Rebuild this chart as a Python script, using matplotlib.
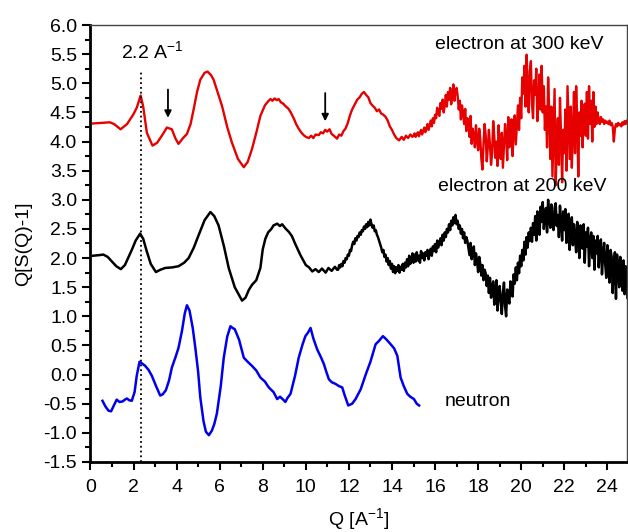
import matplotlib
matplotlib.use('Agg')
import matplotlib.pyplot as plt
from matplotlib.ticker import MultipleLocator
import numpy as np

plt.rcParams['font.family'] = ['Liberation Sans', 'DejaVu Sans']

# ---- red: electron at 300 keV ----
red_q_smooth = [0.12, 0.5, 0.9, 1.1, 1.4, 1.7, 2.0, 2.15, 2.33, 2.45, 2.62, 2.88, 3.1, 3.35,
                3.55, 3.78, 3.95, 4.09, 4.3, 4.48, 4.65, 4.79, 4.95, 5.1, 5.3, 5.44, 5.6, 5.72,
                5.9, 6.11, 6.35, 6.57, 6.85, 7.12, 7.3, 7.5, 7.7, 7.89, 8.1, 8.25, 8.36, 8.45,
                8.55, 8.65, 8.74, 8.85, 8.95, 9.05, 9.2, 9.3, 9.45, 9.55, 9.67, 9.8, 9.9, 10.0,
                10.14, 10.25, 10.35, 10.45, 10.6, 10.7, 10.8, 10.9, 10.99, 11.1, 11.2, 11.3,
                11.45, 11.55, 11.65, 11.75, 11.84, 11.95, 12.05, 12.15, 12.25, 12.39, 12.5,
                12.6, 12.7, 12.8, 12.9, 13.0, 13.09, 13.2, 13.3, 13.4, 13.5, 13.6, 13.71, 13.8,
                13.9, 14.0, 14.1, 14.2, 14.33, 14.45, 14.55, 14.65, 14.75, 14.85, 14.95]
red_y_smooth = [4.31, 4.32, 4.33, 4.30, 4.21, 4.30, 4.47, 4.58, 4.79, 4.60, 4.15, 3.93, 3.98, 4.12,
                4.24, 4.21, 4.05, 3.96, 4.06, 4.13, 4.30, 4.55, 4.85, 5.06, 5.18, 5.20, 5.14, 5.06,
                4.85, 4.61, 4.25, 3.98, 3.70, 3.56, 3.65, 3.87, 4.15, 4.44, 4.62, 4.69, 4.73, 4.70,
                4.74, 4.71, 4.73, 4.67, 4.65, 4.61, 4.56, 4.50, 4.39, 4.30, 4.22, 4.15, 4.11, 4.08,
                4.06, 4.10, 4.06, 4.12, 4.11, 4.16, 4.14, 4.20, 4.17, 4.21, 4.13, 4.10,
                4.05, 4.12, 4.10, 4.18, 4.22, 4.32, 4.45, 4.55, 4.62, 4.72, 4.76,
                4.82, 4.85, 4.80, 4.76, 4.66, 4.62, 4.58, 4.52, 4.55, 4.48, 4.46, 4.42, 4.36,
                4.26, 4.20, 4.12, 4.06, 4.02, 4.08, 4.03, 4.10, 4.06, 4.12, 4.08]
# noisy part, sampled every 0.05 from Q=15 to Q=25
red_y_noisy = [
    4.10, 4.14, 4.08, 4.12, 4.16, 4.09, 4.15, 4.20, 4.12, 4.18, 4.24, 4.16, 4.22, 4.30, 4.20, 4.28, 4.36, 4.26, 4.40, 4.32,
    4.46, 4.40, 4.58, 4.50, 4.44, 4.66, 4.56, 4.72, 4.50, 4.62, 4.80, 4.60, 4.85, 4.72, 4.92, 4.64, 4.80, 4.98, 4.70, 4.86,
    4.92, 4.78, 4.55, 4.70, 4.38, 4.62, 4.50, 4.30, 4.56, 4.18, 4.40, 4.26, 4.08, 4.44, 3.96, 4.22, 4.10, 3.90, 4.28, 4.02,
    3.85, 4.22, 4.05, 3.70, 3.52, 3.96, 4.30, 4.12, 3.66, 3.90, 4.20, 3.95, 3.60, 3.80, 4.35, 4.08, 3.72, 4.00, 3.58, 4.28,
    3.90, 3.70, 4.15, 3.55, 3.92, 4.30, 4.10, 3.68, 4.42, 3.90, 4.05, 4.38, 3.75, 4.20, 4.45, 3.95, 4.30, 4.62, 4.20, 4.75,
    4.40, 5.10, 4.82, 5.30, 4.60, 5.49, 4.95, 4.50, 5.20, 5.38, 4.65, 4.40, 5.05, 4.80, 5.25, 4.35, 4.70, 5.15, 4.55, 5.30,
    4.50, 4.95, 4.20, 4.60, 3.90, 5.10, 4.50, 3.70, 4.60, 3.40, 4.15, 4.90, 3.25, 3.90, 4.40, 3.60, 4.75, 4.10, 3.30, 4.20,
    3.80, 4.55, 3.50, 4.95, 4.30, 3.70, 4.60, 3.55, 4.15, 4.85, 3.80, 4.95, 4.40, 3.40, 4.50, 4.10, 4.70, 3.90, 4.40, 4.65,
    4.10, 4.85, 4.05, 4.95, 4.30, 4.70, 4.00, 4.85, 4.25, 4.60, 4.30, 4.50, 4.36, 4.30, 4.42, 4.34, 4.38, 4.30, 4.36, 4.32,
    4.34, 4.30, 4.36, 4.28, 4.32, 4.26, 4.00, 4.22, 4.30, 4.26, 4.32, 4.28, 4.30, 4.26, 4.33, 4.29, 4.35, 4.30, 4.36, 4.32,
    4.38]

# ---- black: electron at 200 keV ----
blk_q_smooth = [0.12, 0.4, 0.6, 0.8, 1.0, 1.2, 1.41, 1.6, 1.92, 2.1, 2.31, 2.45, 2.62, 2.8, 3.04,
                3.25, 3.47, 3.8, 4.09, 4.35, 4.56, 4.8, 5.02, 5.3, 5.57, 5.75, 5.95, 6.2, 6.42,
                6.7, 7.04, 7.2, 7.35, 7.5, 7.7, 7.89, 8.0, 8.12, 8.25, 8.4, 8.5, 8.67, 8.8, 8.9,
                9.05, 9.21, 9.35, 9.5, 9.6, 9.75, 9.9, 10.0, 10.15, 10.3, 10.45, 10.6, 10.75,
                10.92, 11.05, 11.2, 11.35, 11.45]
blk_y_smooth = [2.04, 2.05, 2.06, 2.02, 1.94, 1.86, 1.81, 1.88, 2.14, 2.30, 2.42, 2.33, 2.11, 1.90, 1.76,
                1.80, 1.83, 1.84, 1.86, 1.92, 2.00, 2.18, 2.39, 2.65, 2.79, 2.72, 2.56, 2.20, 1.83,
                1.50, 1.27, 1.32, 1.45, 1.54, 1.62, 1.83, 2.15, 2.33, 2.44, 2.50, 2.56, 2.59, 2.55, 2.58,
                2.51, 2.45, 2.38, 2.25, 2.17, 2.05, 1.95, 1.88, 1.84, 1.77, 1.81, 1.76, 1.82,
                1.75, 1.83, 1.78, 1.85, 1.80]
# noisy part, sampled every 0.05 from Q=11.5 to Q=25
blk_y_noisy = [
    1.80, 1.88, 1.84, 1.90, 1.86, 1.95, 1.92, 2.00, 1.98, 2.06, 2.04, 2.14, 2.12, 2.22, 2.28, 2.24, 2.34, 2.30, 2.38, 2.36,
    2.44, 2.40, 2.48, 2.46, 2.54, 2.50, 2.58, 2.53, 2.62, 2.56, 2.66, 2.58, 2.52, 2.56, 2.46, 2.48, 2.40, 2.36, 2.30, 2.24,
    2.18, 2.10, 2.14, 2.02, 2.06, 1.94, 2.00, 1.88, 1.95, 1.82, 1.90, 1.76, 1.86, 1.74, 1.84, 1.78, 1.88, 1.75, 1.85, 1.80,
    1.90, 1.78, 1.92, 1.84, 1.98, 1.86, 2.04, 1.90, 1.96, 2.08, 1.92, 2.06, 1.94, 2.10, 1.96, 2.04, 1.92, 2.12, 2.00, 2.08,
    1.96, 2.10, 2.04, 2.14, 1.98, 2.08, 2.16, 2.04, 2.20, 2.12, 2.24, 2.10, 2.30, 2.18, 2.26, 2.34, 2.22, 2.40, 2.30, 2.44,
    2.36, 2.50, 2.44, 2.58, 2.48, 2.64, 2.56, 2.70, 2.60, 2.74, 2.58, 2.64, 2.50, 2.56, 2.42, 2.50, 2.34, 2.44, 2.26, 2.36,
    2.30, 2.18, 2.05, 2.26, 1.98, 2.12, 2.20, 1.88, 2.08, 1.95, 1.76, 2.02, 1.90, 1.70, 1.88, 1.62, 1.80, 1.74, 1.52, 1.70,
    1.40, 1.66, 1.32, 1.50, 1.60, 1.20, 1.44, 1.62, 1.10, 1.36, 1.52, 1.26, 1.04, 1.40, 1.58, 1.18, 1.00, 1.46, 1.30, 1.22,
    1.60, 1.42, 1.34, 1.72, 1.56, 1.84, 1.62, 1.92, 1.74, 2.04, 1.86, 2.14, 1.96, 2.28, 2.06, 2.36, 2.18, 2.44, 2.30, 2.52,
    2.28, 2.60, 2.40, 2.72, 2.30, 2.80, 2.56, 2.40, 2.88, 2.62, 2.96, 2.50, 2.70, 2.86, 2.44, 3.00, 2.66, 2.52, 2.92, 2.60,
    2.48, 2.86, 2.94, 2.55, 2.74, 2.36, 2.90, 2.62, 2.30, 2.80, 2.48, 2.84, 2.26, 2.64, 2.76, 2.14, 2.50, 2.70, 2.22, 2.58,
    2.36, 2.10, 2.62, 2.44, 2.00, 2.56, 2.30, 2.16, 2.58, 1.92, 2.44, 2.20, 2.52, 1.86, 2.30, 2.44, 2.00, 2.38, 1.80, 2.30,
    2.08, 2.38, 1.84, 2.20, 2.32, 1.72, 2.06, 2.26, 1.90, 1.66, 2.22, 1.98, 1.58, 2.14, 2.02, 1.40, 1.88, 2.10, 1.30, 2.06,
    1.80, 1.50, 2.02, 1.70, 1.44, 1.96, 1.38, 1.86, 1.62, 1.30, 1.70]

# ---- blue: neutron ----
blue_q = [0.56, 0.7, 0.84, 0.96, 1.1, 1.22, 1.35, 1.5, 1.6, 1.69, 1.8, 1.92, 2.05, 2.15, 2.28,
          2.4, 2.54, 2.7, 2.85, 3.05, 3.24, 3.35, 3.5, 3.65, 3.78, 3.95, 4.09, 4.25, 4.38, 4.48,
          4.6, 4.75, 4.87, 5.0, 5.1, 5.25, 5.36, 5.5, 5.64, 5.75, 5.87, 6.05, 6.19, 6.35, 6.5,
          6.6, 6.7, 6.9, 7.12, 7.3, 7.5, 7.7, 7.89, 8.1, 8.28, 8.5, 8.67, 8.8, 8.95, 9.05, 9.15,
          9.29, 9.5, 9.67, 9.85, 9.98, 10.1, 10.22, 10.35, 10.53, 10.7, 10.84, 10.95, 11.07, 11.2,
          11.38, 11.55, 11.69, 11.8, 11.97, 12.15, 12.31, 12.55, 12.78, 13.0, 13.24, 13.4, 13.58,
          13.75, 13.94, 14.1, 14.25, 14.4, 14.55, 14.71, 14.85, 15.02, 15.15, 15.26]
blue_y = [-0.45, -0.55, -0.62, -0.63, -0.52, -0.43, -0.47, -0.46, -0.43, -0.41, -0.44, -0.45, -0.30, -0.02, 0.22,
          0.19, 0.15, 0.08, -0.02, -0.20, -0.36, -0.34, -0.27, -0.10, 0.12, 0.30, 0.46, 0.75, 1.05, 1.19,
          1.10, 0.80, 0.46, 0.05, -0.39, -0.80, -0.98, -1.04, -0.96, -0.85, -0.67, -0.20, 0.29, 0.65, 0.83,
          0.80, 0.78, 0.60, 0.29, 0.22, 0.15, 0.07, -0.05, -0.12, -0.22, -0.30, -0.42, -0.38, -0.43, -0.47, -0.40,
          -0.33, -0.02, 0.29, 0.52, 0.66, 0.72, 0.80, 0.62, 0.43, 0.30, 0.18, 0.05, -0.08, -0.13,
          -0.16, -0.20, -0.22, -0.35, -0.53, -0.50, -0.42, -0.25, 0.00, 0.22, 0.52, 0.58, 0.66,
          0.60, 0.52, 0.45, 0.32, -0.05, -0.20, -0.33, -0.38, -0.42, -0.50, -0.53]

red_q = np.concatenate([red_q_smooth, np.linspace(15, 25, len(red_y_noisy))])
red_y = np.concatenate([red_y_smooth, red_y_noisy])
blk_q = np.concatenate([blk_q_smooth, np.linspace(11.5, 25, len(blk_y_noisy))])
blk_y = np.concatenate([blk_y_smooth, blk_y_noisy])

fig = plt.figure(figsize=(6.28, 5.32), dpi=100)
ax = fig.add_axes([0.144, 0.1316, 0.854, 0.8214])

ax.plot(red_q, red_y, color='#e60000', lw=1.7)
ax.plot(blk_q, blk_y, color='black', lw=1.8)
ax.plot(blue_q, blue_y, color='#0000ee', lw=1.8)

# dotted marker line at first peak
ax.plot([2.33, 2.33], [-1.5, 5.2], color='black', ls=':', lw=1.3)
ax.text(1.42, 5.54, '2.2 A$^{\\mathregular{-1}}$', fontsize=14, va='center', ha='left')

for qa, ytop, ybot in [(3.6, 4.94, 4.36), (10.9, 4.88, 4.30)]:
    ax.annotate('', xy=(qa, ybot), xytext=(qa, ytop),
                arrowprops=dict(arrowstyle='-|>', color='black', lw=1.3, mutation_scale=10))

ax.text(16.0, 5.66, 'electron at 300 keV', fontsize=14, va='center', ha='left')
ax.text(16.15, 3.22, 'electron at 200 keV', fontsize=14, va='center', ha='left')
ax.text(16.45, -0.47, 'neutron', fontsize=14, va='center', ha='left')

ax.set_xlim(0, 24.9)
ax.set_ylim(-1.5, 6.0)
ax.xaxis.set_major_locator(MultipleLocator(2))
ax.xaxis.set_minor_locator(MultipleLocator(1))
ax.yaxis.set_major_locator(MultipleLocator(0.5))
ax.yaxis.set_minor_locator(MultipleLocator(0.25))
ax.yaxis.set_major_formatter(plt.FormatStrFormatter('%.1f'))
ax.tick_params(which='both', direction='out', width=1.5, labelsize=14, top=False, right=False)
ax.tick_params(which='major', length=6)
ax.tick_params(which='minor', length=3.5)
ax.tick_params(axis='x', pad=6)

for s in ['left', 'bottom']:
    ax.spines[s].set_linewidth(2)
for s in ['top', 'right']:
    ax.spines[s].set_linewidth(1)
    ax.spines[s].set_color('#444444')

ax.set_xlabel('Q [A$^{\\mathregular{-1}}$]', fontsize=14, labelpad=8)
ax.set_ylabel('Q[S(Q)-1]', fontsize=14, labelpad=8)

fig.savefig('out.png', dpi=100)
